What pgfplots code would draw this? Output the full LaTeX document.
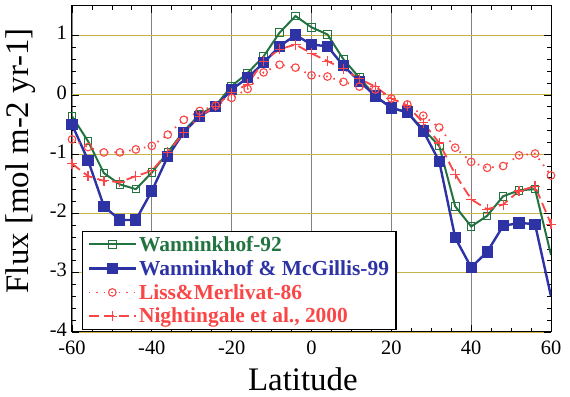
\documentclass[border=0pt]{standalone}
\usepackage{fontspec}
\setmainfont{Liberation Serif}
\usepackage{pgfplots}
\pgfplotsset{compat=1.18}
\definecolor{wgreen}{RGB}{35,115,65}
\definecolor{wblue}{RGB}{45,50,165}
\definecolor{lred}{RGB}{250,70,70}
\definecolor{gridy}{RGB}{200,180,70}
\definecolor{gridx}{RGB}{130,130,130}
\begin{document}
\begin{tikzpicture}
\begin{axis}[
  name=ax,
  scale only axis, width=479bp, height=326bp,
  xmin=-60, xmax=60, ymin=-4, ymax=1.5,
  xtick={-60,-40,...,60}, ytick={-4,-3,...,1},
  minor x tick num=3, minor y tick num=4,
  tick align=inside, major tick length=7bp, minor tick length=4bp,
  axis line style={black, line width=1bp},
  tick style={black, line width=0.8bp},
  grid=major,
  x grid style={gridx, line width=0.7bp},
  y grid style={gridy, line width=0.9bp},
  tick label style={font=\fontsize{20.5}{20.5}\selectfont},
  xticklabel style={yshift=-6.5bp, inner sep=2bp},
  yticklabel style={xshift=-3bp, yshift=2.5bp, inner sep=2bp},
  /pgf/number format/assume math mode=true,
  xlabel={Latitude}, ylabel={Flux [mol m-2 yr-1]},
  label style={font=\fontsize{33}{33}\selectfont},
  xlabel style={at={(axis description cs:0.482,-0.144)}, anchor=center},
  ylabel style={at={(axis description cs:-0.108,0.525)}, anchor=center},
  legend cell align=left,
  legend style={at={(0.021,0.006)}, anchor=south west, draw=black, line width=1.2bp,
    fill=white, font=\bfseries\fontsize{21.5}{22}\selectfont, row sep=3.5bp,
    inner xsep=5bp, inner ysep=3bp},
  legend image code/.code={\draw[mark repeat=2,mark phase=2,#1] plot coordinates {(0bp,0bp) (23.5bp,0bp) (47bp,0bp)};},
]
\addplot[wgreen, line width=2bp, mark=square, mark size=3.8bp, mark options={line width=1bp}] coordinates {
(-60,-0.36) (-56,-0.78) (-52,-1.32) (-48,-1.51) (-44,-1.59) (-40,-1.31) (-36,-0.97)
(-32,-0.61) (-28,-0.33) (-24,-0.18) (-20,0.15) (-16,0.37) (-12,0.65) (-8,1.05)
(-4,1.33) (0,1.14) (4,1.02) (8,0.60) (12,0.29) (16,-0.02) (20,-0.22) (24,-0.30)
(28,-0.58) (32,-0.86) (36,-1.88) (40,-2.22) (44,-2.04) (48,-1.71) (52,-1.61) (56,-1.59)};
\addlegendentry{\textcolor{wgreen}{Wanninkhof-92}}
\addplot[wblue, line width=2.4bp, mark=square*, mark size=4.4bp, mark options={fill=wblue}] coordinates {
(-60,-0.50) (-56,-1.10) (-52,-1.88) (-48,-2.11) (-44,-2.11) (-40,-1.62) (-36,-1.04)
(-32,-0.63) (-28,-0.36) (-24,-0.20) (-20,0.09) (-16,0.29) (-12,0.54) (-8,0.82)
(-4,1.01) (0,0.85) (4,0.82) (8,0.49) (12,0.23) (16,-0.02) (20,-0.22) (24,-0.29)
(28,-0.61) (32,-1.12) (36,-2.41) (40,-2.91) (44,-2.65) (48,-2.21) (52,-2.16) (56,-2.18)};
\addlegendentry{\textcolor{wblue}{Wanninkhof \& McGillis-99}}
\addplot[lred, line width=1.8bp, dash pattern=on 1.5bp off 6bp, mark=o, mark size=3.8bp, mark options={solid, line width=1.1bp}] coordinates {
(-60,-0.75) (-56,-0.88) (-52,-0.97) (-48,-0.97) (-44,-0.92) (-40,-0.86) (-36,-0.67)
(-32,-0.42) (-28,-0.27) (-24,-0.18) (-20,-0.05) (-16,0.10) (-12,0.38) (-8,0.51)
(-4,0.46) (0,0.33) (4,0.31) (8,0.22) (12,0.14) (16,0.09) (20,-0.06) (24,-0.16)
(28,-0.35) (32,-0.55) (36,-0.89) (40,-1.13) (44,-1.23) (48,-1.20) (52,-1.02) (56,-0.99) (60,-1.36)};
\addlegendentry{\textcolor{lred}{Liss\&Merlivat-86}}
\addplot[lred, line width=1.8bp, dash pattern=on 10bp off 5bp, mark=+, mark size=5bp, mark options={solid, line width=1.2bp}] coordinates {
(-60,-1.16) (-56,-1.37) (-52,-1.45) (-48,-1.47) (-44,-1.37) (-40,-1.28) (-36,-0.97)
(-32,-0.64) (-28,-0.36) (-24,-0.19) (-20,0.04) (-16,0.18) (-12,0.57) (-8,0.77)
(-4,0.85) (0,0.70) (4,0.57) (8,0.44) (12,0.27) (16,0.14) (20,-0.06) (24,-0.18)
(28,-0.47) (32,-0.81) (36,-1.34) (40,-1.76) (44,-1.93) (48,-1.85) (52,-1.62) (56,-1.54) (60,-2.18)};
\addlegendentry{\textcolor{lred}{Nightingale et al., 2000}}
\addplot[wgreen, line width=2bp, forget plot] coordinates {(56,-1.59) (60,-2.70)};
\addplot[wblue, line width=2.4bp, forget plot] coordinates {(56,-2.18) (60,-3.40)};
\end{axis}
\pgfresetboundingbox
\path ([shift={(-72bp,-65bp)}]ax.south west) rectangle ([shift={(19bp,6bp)}]ax.north east);
\end{tikzpicture}
\end{document}
